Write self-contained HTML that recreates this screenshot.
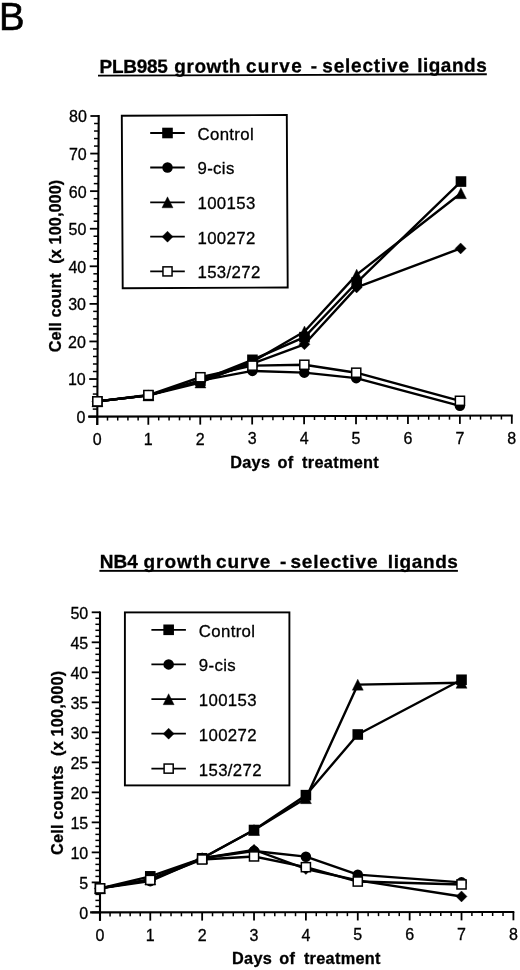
<!DOCTYPE html>
<html><head><meta charset="utf-8"><title>Growth curves</title>
<style>
html,body{margin:0;padding:0;background:#fff;}
body{width:520px;height:970px;overflow:hidden;}
svg{display:block;font-family:"Liberation Sans",sans-serif;will-change:transform;}
text{fill:#000;stroke:#000;stroke-width:0.3px;}
</style></head><body>
<svg width="520" height="970" viewBox="0 0 520 970">
<rect width="520" height="970" fill="#fff"/>
<text x="-1.1" y="29.5" font-size="38.3" style="stroke-width:0.6px">B</text>
<g transform="rotate(-0.2 99.5 73)">
<text x="99.6" y="73" font-size="19" font-weight="bold" style="letter-spacing:-0.3px">PLB985</text>
<text x="174.3" y="73" font-size="19" font-weight="bold" style="letter-spacing:0.55px">growth</text>
<text x="245.9" y="73" font-size="19" font-weight="bold" style="letter-spacing:1.3px">curve</text>
<text x="310.8" y="73" font-size="19" font-weight="bold" style="letter-spacing:0px">-</text>
<text x="322.3" y="73" font-size="19" font-weight="bold" style="letter-spacing:0.8px">selective</text>
<text x="417.2" y="73" font-size="19" font-weight="bold" style="letter-spacing:0.5px">ligands</text>
<rect x="98" y="74.7" width="388.8" height="1.9" fill="#000"/>
</g>
<line x1="98.70" y1="115.10" x2="97.26" y2="424.90" stroke="#000" stroke-width="2.1"/>
<line x1="88.10" y1="416.62" x2="512.70" y2="415.50" stroke="#000" stroke-width="2.1"/>
<line x1="89.00" y1="416.60" x2="97.30" y2="416.60" stroke="#000" stroke-width="1.8"/>
<text x="85.50" y="423.00" font-size="16" text-anchor="end">0</text>
<line x1="92.74" y1="409.09" x2="97.34" y2="409.09" stroke="#000" stroke-width="1.5"/>
<line x1="92.77" y1="401.57" x2="97.37" y2="401.57" stroke="#000" stroke-width="1.5"/>
<line x1="92.81" y1="394.06" x2="97.41" y2="394.06" stroke="#000" stroke-width="1.5"/>
<line x1="92.84" y1="386.54" x2="97.44" y2="386.54" stroke="#000" stroke-width="1.5"/>
<line x1="89.18" y1="379.03" x2="97.48" y2="379.03" stroke="#000" stroke-width="1.8"/>
<text x="85.68" y="385.43" font-size="16" text-anchor="end">10</text>
<line x1="92.91" y1="371.51" x2="97.51" y2="371.51" stroke="#000" stroke-width="1.5"/>
<line x1="92.95" y1="364.00" x2="97.55" y2="364.00" stroke="#000" stroke-width="1.5"/>
<line x1="92.98" y1="356.48" x2="97.58" y2="356.48" stroke="#000" stroke-width="1.5"/>
<line x1="93.02" y1="348.97" x2="97.62" y2="348.97" stroke="#000" stroke-width="1.5"/>
<line x1="89.35" y1="341.45" x2="97.65" y2="341.45" stroke="#000" stroke-width="1.8"/>
<text x="85.85" y="347.85" font-size="16" text-anchor="end">20</text>
<line x1="93.09" y1="333.94" x2="97.69" y2="333.94" stroke="#000" stroke-width="1.5"/>
<line x1="93.12" y1="326.42" x2="97.72" y2="326.42" stroke="#000" stroke-width="1.5"/>
<line x1="93.16" y1="318.91" x2="97.76" y2="318.91" stroke="#000" stroke-width="1.5"/>
<line x1="93.19" y1="311.39" x2="97.79" y2="311.39" stroke="#000" stroke-width="1.5"/>
<line x1="89.53" y1="303.88" x2="97.83" y2="303.88" stroke="#000" stroke-width="1.8"/>
<text x="86.03" y="310.27" font-size="16" text-anchor="end">30</text>
<line x1="93.26" y1="296.36" x2="97.86" y2="296.36" stroke="#000" stroke-width="1.5"/>
<line x1="93.30" y1="288.85" x2="97.90" y2="288.85" stroke="#000" stroke-width="1.5"/>
<line x1="93.33" y1="281.33" x2="97.93" y2="281.33" stroke="#000" stroke-width="1.5"/>
<line x1="93.37" y1="273.81" x2="97.97" y2="273.81" stroke="#000" stroke-width="1.5"/>
<line x1="89.70" y1="266.30" x2="98.00" y2="266.30" stroke="#000" stroke-width="1.8"/>
<text x="86.20" y="272.70" font-size="16" text-anchor="end">40</text>
<line x1="93.44" y1="258.79" x2="98.04" y2="258.79" stroke="#000" stroke-width="1.5"/>
<line x1="93.47" y1="251.27" x2="98.07" y2="251.27" stroke="#000" stroke-width="1.5"/>
<line x1="93.51" y1="243.75" x2="98.11" y2="243.75" stroke="#000" stroke-width="1.5"/>
<line x1="93.54" y1="236.24" x2="98.14" y2="236.24" stroke="#000" stroke-width="1.5"/>
<line x1="89.88" y1="228.73" x2="98.18" y2="228.73" stroke="#000" stroke-width="1.8"/>
<text x="86.38" y="235.13" font-size="16" text-anchor="end">50</text>
<line x1="93.61" y1="221.21" x2="98.21" y2="221.21" stroke="#000" stroke-width="1.5"/>
<line x1="93.65" y1="213.69" x2="98.25" y2="213.69" stroke="#000" stroke-width="1.5"/>
<line x1="93.68" y1="206.18" x2="98.28" y2="206.18" stroke="#000" stroke-width="1.5"/>
<line x1="93.72" y1="198.67" x2="98.32" y2="198.67" stroke="#000" stroke-width="1.5"/>
<line x1="90.05" y1="191.15" x2="98.35" y2="191.15" stroke="#000" stroke-width="1.8"/>
<text x="86.55" y="197.55" font-size="16" text-anchor="end">60</text>
<line x1="93.79" y1="183.63" x2="98.39" y2="183.63" stroke="#000" stroke-width="1.5"/>
<line x1="93.82" y1="176.12" x2="98.42" y2="176.12" stroke="#000" stroke-width="1.5"/>
<line x1="93.86" y1="168.61" x2="98.46" y2="168.61" stroke="#000" stroke-width="1.5"/>
<line x1="93.89" y1="161.09" x2="98.49" y2="161.09" stroke="#000" stroke-width="1.5"/>
<line x1="90.23" y1="153.57" x2="98.53" y2="153.57" stroke="#000" stroke-width="1.8"/>
<text x="86.73" y="159.97" font-size="16" text-anchor="end">70</text>
<line x1="93.96" y1="146.06" x2="98.56" y2="146.06" stroke="#000" stroke-width="1.5"/>
<line x1="94.00" y1="138.55" x2="98.60" y2="138.55" stroke="#000" stroke-width="1.5"/>
<line x1="94.03" y1="131.03" x2="98.63" y2="131.03" stroke="#000" stroke-width="1.5"/>
<line x1="94.07" y1="123.51" x2="98.67" y2="123.51" stroke="#000" stroke-width="1.5"/>
<line x1="90.40" y1="116.00" x2="98.70" y2="116.00" stroke="#000" stroke-width="1.8"/>
<text x="86.90" y="122.40" font-size="16" text-anchor="end">80</text>
<line x1="97.30" y1="416.60" x2="97.30" y2="424.90" stroke="#000" stroke-width="1.8"/>
<text x="97.30" y="444.90" font-size="16" text-anchor="middle">0</text>
<line x1="107.51" y1="416.57" x2="107.51" y2="420.57" stroke="#000" stroke-width="1.5"/>
<line x1="117.71" y1="416.55" x2="117.71" y2="420.55" stroke="#000" stroke-width="1.5"/>
<line x1="127.92" y1="416.52" x2="127.92" y2="420.52" stroke="#000" stroke-width="1.5"/>
<line x1="138.12" y1="416.49" x2="138.12" y2="420.49" stroke="#000" stroke-width="1.5"/>
<line x1="148.32" y1="416.46" x2="148.32" y2="424.76" stroke="#000" stroke-width="1.8"/>
<text x="148.32" y="444.76" font-size="16" text-anchor="middle">1</text>
<line x1="158.71" y1="416.44" x2="158.71" y2="420.44" stroke="#000" stroke-width="1.5"/>
<line x1="169.09" y1="416.41" x2="169.09" y2="420.41" stroke="#000" stroke-width="1.5"/>
<line x1="179.48" y1="416.38" x2="179.48" y2="420.38" stroke="#000" stroke-width="1.5"/>
<line x1="189.87" y1="416.35" x2="189.87" y2="420.35" stroke="#000" stroke-width="1.5"/>
<line x1="200.25" y1="416.33" x2="200.25" y2="424.63" stroke="#000" stroke-width="1.8"/>
<text x="200.25" y="444.63" font-size="16" text-anchor="middle">2</text>
<line x1="210.63" y1="416.30" x2="210.63" y2="420.30" stroke="#000" stroke-width="1.5"/>
<line x1="221.02" y1="416.27" x2="221.02" y2="420.27" stroke="#000" stroke-width="1.5"/>
<line x1="231.41" y1="416.24" x2="231.41" y2="420.24" stroke="#000" stroke-width="1.5"/>
<line x1="241.79" y1="416.22" x2="241.79" y2="420.22" stroke="#000" stroke-width="1.5"/>
<line x1="252.17" y1="416.19" x2="252.17" y2="424.49" stroke="#000" stroke-width="1.8"/>
<text x="252.17" y="444.49" font-size="16" text-anchor="middle">3</text>
<line x1="262.56" y1="416.16" x2="262.56" y2="420.16" stroke="#000" stroke-width="1.5"/>
<line x1="272.94" y1="416.13" x2="272.94" y2="420.13" stroke="#000" stroke-width="1.5"/>
<line x1="283.33" y1="416.11" x2="283.33" y2="420.11" stroke="#000" stroke-width="1.5"/>
<line x1="293.71" y1="416.08" x2="293.71" y2="420.08" stroke="#000" stroke-width="1.5"/>
<line x1="304.10" y1="416.05" x2="304.10" y2="424.35" stroke="#000" stroke-width="1.8"/>
<text x="304.10" y="444.35" font-size="16" text-anchor="middle">4</text>
<line x1="314.49" y1="416.02" x2="314.49" y2="420.02" stroke="#000" stroke-width="1.5"/>
<line x1="324.87" y1="416.00" x2="324.87" y2="420.00" stroke="#000" stroke-width="1.5"/>
<line x1="335.25" y1="415.97" x2="335.25" y2="419.97" stroke="#000" stroke-width="1.5"/>
<line x1="345.64" y1="415.94" x2="345.64" y2="419.94" stroke="#000" stroke-width="1.5"/>
<line x1="356.02" y1="415.91" x2="356.02" y2="424.21" stroke="#000" stroke-width="1.8"/>
<text x="356.02" y="444.21" font-size="16" text-anchor="middle">5</text>
<line x1="366.41" y1="415.89" x2="366.41" y2="419.89" stroke="#000" stroke-width="1.5"/>
<line x1="376.79" y1="415.86" x2="376.79" y2="419.86" stroke="#000" stroke-width="1.5"/>
<line x1="387.18" y1="415.83" x2="387.18" y2="419.83" stroke="#000" stroke-width="1.5"/>
<line x1="397.56" y1="415.80" x2="397.56" y2="419.80" stroke="#000" stroke-width="1.5"/>
<line x1="407.95" y1="415.78" x2="407.95" y2="424.08" stroke="#000" stroke-width="1.8"/>
<text x="407.95" y="444.08" font-size="16" text-anchor="middle">6</text>
<line x1="418.34" y1="415.75" x2="418.34" y2="419.75" stroke="#000" stroke-width="1.5"/>
<line x1="428.72" y1="415.72" x2="428.72" y2="419.72" stroke="#000" stroke-width="1.5"/>
<line x1="439.11" y1="415.69" x2="439.11" y2="419.69" stroke="#000" stroke-width="1.5"/>
<line x1="449.49" y1="415.67" x2="449.49" y2="419.67" stroke="#000" stroke-width="1.5"/>
<line x1="459.88" y1="415.64" x2="459.88" y2="423.94" stroke="#000" stroke-width="1.8"/>
<text x="459.88" y="443.94" font-size="16" text-anchor="middle">7</text>
<line x1="470.26" y1="415.61" x2="470.26" y2="419.61" stroke="#000" stroke-width="1.5"/>
<line x1="480.64" y1="415.58" x2="480.64" y2="419.58" stroke="#000" stroke-width="1.5"/>
<line x1="491.03" y1="415.56" x2="491.03" y2="419.56" stroke="#000" stroke-width="1.5"/>
<line x1="501.41" y1="415.53" x2="501.41" y2="419.53" stroke="#000" stroke-width="1.5"/>
<line x1="511.80" y1="415.50" x2="511.80" y2="423.80" stroke="#000" stroke-width="1.8"/>
<text x="511.80" y="443.80" font-size="16" text-anchor="middle">8</text>
<text x="230.20" y="467.5" font-size="16.3" font-weight="bold" style="letter-spacing:0.3px">Days</text>
<text x="277.50" y="467.5" font-size="16.3" font-weight="bold" style="letter-spacing:0.3px">of</text>
<text x="302.10" y="467.5" font-size="16.3" font-weight="bold" style="letter-spacing:0.3px">treatment</text>
<text transform="translate(61,352.3) rotate(-90)" font-size="16.3" font-weight="bold" textLength="172.6" lengthAdjust="spacing" xml:space="preserve">Cell count  (x 100,000)</text>
<polyline points="97.37,401.38 148.42,395.42 200.42,380.63 252.44,359.82 304.47,337.14 356.65,282.52 460.97,181.55" fill="none" stroke="#000" stroke-width="2.4" stroke-linejoin="round"/>
<rect x="92.07" y="396.08" width="10.60" height="10.60" fill="#000"/>
<rect x="143.12" y="390.12" width="10.60" height="10.60" fill="#000"/>
<rect x="195.12" y="375.33" width="10.60" height="10.60" fill="#000"/>
<rect x="247.14" y="354.52" width="10.60" height="10.60" fill="#000"/>
<rect x="299.17" y="331.84" width="10.60" height="10.60" fill="#000"/>
<rect x="351.35" y="277.22" width="10.60" height="10.60" fill="#000"/>
<rect x="455.67" y="176.25" width="10.60" height="10.60" fill="#000"/>
<polyline points="97.37,401.38 148.42,395.42 200.42,380.63 252.39,370.91 304.30,372.65 356.20,378.15 459.92,405.87" fill="none" stroke="#000" stroke-width="2.4" stroke-linejoin="round"/>
<circle cx="97.37" cy="401.38" r="5.25" fill="#000"/>
<circle cx="148.42" cy="395.42" r="5.25" fill="#000"/>
<circle cx="200.42" cy="380.63" r="5.25" fill="#000"/>
<circle cx="252.39" cy="370.91" r="5.25" fill="#000"/>
<circle cx="304.30" cy="372.65" r="5.25" fill="#000"/>
<circle cx="356.20" cy="378.15" r="5.25" fill="#000"/>
<circle cx="459.92" cy="405.87" r="5.25" fill="#000"/>
<polyline points="97.37,401.38 148.42,395.42 200.41,382.51 252.43,361.70 304.49,331.51 356.68,274.63 460.91,193.19" fill="none" stroke="#000" stroke-width="2.4" stroke-linejoin="round"/>
<polygon points="97.37,395.88 102.87,406.88 91.87,406.88" fill="#000" stroke="#000" stroke-width="0.4" stroke-linejoin="round"/>
<polygon points="148.42,389.92 153.92,400.92 142.92,400.92" fill="#000" stroke="#000" stroke-width="0.4" stroke-linejoin="round"/>
<polygon points="200.41,377.01 205.91,388.01 194.91,388.01" fill="#000" stroke="#000" stroke-width="0.4" stroke-linejoin="round"/>
<polygon points="252.43,356.20 257.93,367.20 246.93,367.20" fill="#000" stroke="#000" stroke-width="0.4" stroke-linejoin="round"/>
<polygon points="304.49,326.01 309.99,337.01 298.99,337.01" fill="#000" stroke="#000" stroke-width="0.4" stroke-linejoin="round"/>
<polygon points="356.68,269.13 362.18,280.13 351.18,280.13" fill="#000" stroke="#000" stroke-width="0.4" stroke-linejoin="round"/>
<polygon points="460.91,187.69 466.41,198.69 455.41,198.69" fill="#000" stroke="#000" stroke-width="0.4" stroke-linejoin="round"/>
<polyline points="97.37,401.38 148.42,395.42 200.42,380.63 252.42,363.58 304.43,344.28 356.62,287.41 460.65,248.43" fill="none" stroke="#000" stroke-width="2.4" stroke-linejoin="round"/>
<polygon points="97.37,395.88 102.87,401.38 97.37,406.88 91.87,401.38" fill="#000" stroke="#000" stroke-width="0.4" stroke-linejoin="round"/>
<polygon points="148.42,389.92 153.92,395.42 148.42,400.92 142.92,395.42" fill="#000" stroke="#000" stroke-width="0.4" stroke-linejoin="round"/>
<polygon points="200.42,375.13 205.92,380.63 200.42,386.13 194.92,380.63" fill="#000" stroke="#000" stroke-width="0.4" stroke-linejoin="round"/>
<polygon points="252.42,358.08 257.92,363.58 252.42,369.08 246.92,363.58" fill="#000" stroke="#000" stroke-width="0.4" stroke-linejoin="round"/>
<polygon points="304.43,338.78 309.93,344.28 304.43,349.78 298.93,344.28" fill="#000" stroke="#000" stroke-width="0.4" stroke-linejoin="round"/>
<polygon points="356.62,281.91 362.12,287.41 356.62,292.91 351.12,287.41" fill="#000" stroke="#000" stroke-width="0.4" stroke-linejoin="round"/>
<polygon points="460.65,242.93 466.15,248.43 460.65,253.93 455.15,248.43" fill="#000" stroke="#000" stroke-width="0.4" stroke-linejoin="round"/>
<polyline points="97.37,401.38 148.42,395.04 200.43,377.25 252.41,365.65 304.34,364.76 356.23,372.70 459.94,400.80" fill="none" stroke="#000" stroke-width="2.4" stroke-linejoin="round"/>
<rect x="92.82" y="396.83" width="9.10" height="9.10" fill="#fff" stroke="#000" stroke-width="1.5"/>
<rect x="143.87" y="390.49" width="9.10" height="9.10" fill="#fff" stroke="#000" stroke-width="1.5"/>
<rect x="195.88" y="372.70" width="9.10" height="9.10" fill="#fff" stroke="#000" stroke-width="1.5"/>
<rect x="247.86" y="361.10" width="9.10" height="9.10" fill="#fff" stroke="#000" stroke-width="1.5"/>
<rect x="299.79" y="360.21" width="9.10" height="9.10" fill="#fff" stroke="#000" stroke-width="1.5"/>
<rect x="351.68" y="368.15" width="9.10" height="9.10" fill="#fff" stroke="#000" stroke-width="1.5"/>
<rect x="455.39" y="396.25" width="9.10" height="9.10" fill="#fff" stroke="#000" stroke-width="1.5"/>
<g transform="rotate(-0.3 122.7 288.3)">
<rect x="122.7" y="115.8" width="165.0" height="172.5" fill="#fff" stroke="#000" stroke-width="1.9"/>
</g>
<line x1="150.2" y1="133" x2="184.8" y2="133" stroke="#000" stroke-width="1.8"/>
<rect x="162.20" y="127.70" width="10.60" height="10.60" fill="#000"/>
<text x="197.5" y="139.9" font-size="16.8" style="letter-spacing:0.35px">Control</text>
<line x1="150.2" y1="167.5" x2="184.8" y2="167.5" stroke="#000" stroke-width="1.8"/>
<circle cx="167.50" cy="167.50" r="5.25" fill="#000"/>
<text x="197.5" y="174.4" font-size="16.8" style="letter-spacing:0.35px">9-cis</text>
<line x1="150.2" y1="202.3" x2="184.8" y2="202.3" stroke="#000" stroke-width="1.8"/>
<polygon points="167.50,196.80 173.00,207.80 162.00,207.80" fill="#000" stroke="#000" stroke-width="0.4" stroke-linejoin="round"/>
<text x="197.5" y="209.20000000000002" font-size="16.8" style="letter-spacing:0.35px">100153</text>
<line x1="150.2" y1="236.7" x2="184.8" y2="236.7" stroke="#000" stroke-width="1.8"/>
<polygon points="167.50,231.20 173.00,236.70 167.50,242.20 162.00,236.70" fill="#000" stroke="#000" stroke-width="0.4" stroke-linejoin="round"/>
<text x="197.5" y="243.6" font-size="16.8" style="letter-spacing:0.35px">100272</text>
<line x1="150.2" y1="271.4" x2="184.8" y2="271.4" stroke="#000" stroke-width="1.8"/>
<rect x="162.95" y="266.85" width="9.10" height="9.10" fill="#fff" stroke="#000" stroke-width="1.5"/>
<text x="197.5" y="278.29999999999995" font-size="16.8" style="letter-spacing:0.35px">153/272</text>
<g transform="rotate(0 99.7 568.2)">
<text x="99.8" y="568.2" font-size="19" font-weight="bold" style="letter-spacing:0.05px">NB4</text>
<text x="143.4" y="568.2" font-size="19" font-weight="bold" style="letter-spacing:1.0px">growth</text>
<text x="216.1" y="568.2" font-size="19" font-weight="bold" style="letter-spacing:0.9px">curve</text>
<text x="279.9" y="568.2" font-size="19" font-weight="bold" style="letter-spacing:0px">-</text>
<text x="290.4" y="568.2" font-size="19" font-weight="bold" style="letter-spacing:0.85px">selective</text>
<text x="387.8" y="568.2" font-size="19" font-weight="bold" style="letter-spacing:0.6px">ligands</text>
<rect x="99.4" y="569.9000000000001" width="358.5" height="1.9" fill="#000"/>
</g>
<line x1="100.00" y1="611.40" x2="100.00" y2="920.70" stroke="#000" stroke-width="2.1"/>
<line x1="90.10" y1="912.41" x2="514.30" y2="912.00" stroke="#000" stroke-width="2.1"/>
<line x1="91.70" y1="912.40" x2="100.00" y2="912.40" stroke="#000" stroke-width="1.8"/>
<text x="88.20" y="918.80" font-size="16" text-anchor="end">0</text>
<line x1="95.40" y1="906.40" x2="100.00" y2="906.40" stroke="#000" stroke-width="1.5"/>
<line x1="95.40" y1="900.40" x2="100.00" y2="900.40" stroke="#000" stroke-width="1.5"/>
<line x1="95.40" y1="894.39" x2="100.00" y2="894.39" stroke="#000" stroke-width="1.5"/>
<line x1="95.40" y1="888.39" x2="100.00" y2="888.39" stroke="#000" stroke-width="1.5"/>
<line x1="91.70" y1="882.39" x2="100.00" y2="882.39" stroke="#000" stroke-width="1.8"/>
<text x="88.20" y="888.79" font-size="16" text-anchor="end">5</text>
<line x1="95.40" y1="876.39" x2="100.00" y2="876.39" stroke="#000" stroke-width="1.5"/>
<line x1="95.40" y1="870.39" x2="100.00" y2="870.39" stroke="#000" stroke-width="1.5"/>
<line x1="95.40" y1="864.38" x2="100.00" y2="864.38" stroke="#000" stroke-width="1.5"/>
<line x1="95.40" y1="858.38" x2="100.00" y2="858.38" stroke="#000" stroke-width="1.5"/>
<line x1="91.70" y1="852.38" x2="100.00" y2="852.38" stroke="#000" stroke-width="1.8"/>
<text x="88.20" y="858.78" font-size="16" text-anchor="end">10</text>
<line x1="95.40" y1="846.38" x2="100.00" y2="846.38" stroke="#000" stroke-width="1.5"/>
<line x1="95.40" y1="840.38" x2="100.00" y2="840.38" stroke="#000" stroke-width="1.5"/>
<line x1="95.40" y1="834.37" x2="100.00" y2="834.37" stroke="#000" stroke-width="1.5"/>
<line x1="95.40" y1="828.37" x2="100.00" y2="828.37" stroke="#000" stroke-width="1.5"/>
<line x1="91.70" y1="822.37" x2="100.00" y2="822.37" stroke="#000" stroke-width="1.8"/>
<text x="88.20" y="828.77" font-size="16" text-anchor="end">15</text>
<line x1="95.40" y1="816.37" x2="100.00" y2="816.37" stroke="#000" stroke-width="1.5"/>
<line x1="95.40" y1="810.37" x2="100.00" y2="810.37" stroke="#000" stroke-width="1.5"/>
<line x1="95.40" y1="804.36" x2="100.00" y2="804.36" stroke="#000" stroke-width="1.5"/>
<line x1="95.40" y1="798.36" x2="100.00" y2="798.36" stroke="#000" stroke-width="1.5"/>
<line x1="91.70" y1="792.36" x2="100.00" y2="792.36" stroke="#000" stroke-width="1.8"/>
<text x="88.20" y="798.76" font-size="16" text-anchor="end">20</text>
<line x1="95.40" y1="786.36" x2="100.00" y2="786.36" stroke="#000" stroke-width="1.5"/>
<line x1="95.40" y1="780.36" x2="100.00" y2="780.36" stroke="#000" stroke-width="1.5"/>
<line x1="95.40" y1="774.35" x2="100.00" y2="774.35" stroke="#000" stroke-width="1.5"/>
<line x1="95.40" y1="768.35" x2="100.00" y2="768.35" stroke="#000" stroke-width="1.5"/>
<line x1="91.70" y1="762.35" x2="100.00" y2="762.35" stroke="#000" stroke-width="1.8"/>
<text x="88.20" y="768.75" font-size="16" text-anchor="end">25</text>
<line x1="95.40" y1="756.35" x2="100.00" y2="756.35" stroke="#000" stroke-width="1.5"/>
<line x1="95.40" y1="750.35" x2="100.00" y2="750.35" stroke="#000" stroke-width="1.5"/>
<line x1="95.40" y1="744.34" x2="100.00" y2="744.34" stroke="#000" stroke-width="1.5"/>
<line x1="95.40" y1="738.34" x2="100.00" y2="738.34" stroke="#000" stroke-width="1.5"/>
<line x1="91.70" y1="732.34" x2="100.00" y2="732.34" stroke="#000" stroke-width="1.8"/>
<text x="88.20" y="738.74" font-size="16" text-anchor="end">30</text>
<line x1="95.40" y1="726.34" x2="100.00" y2="726.34" stroke="#000" stroke-width="1.5"/>
<line x1="95.40" y1="720.34" x2="100.00" y2="720.34" stroke="#000" stroke-width="1.5"/>
<line x1="95.40" y1="714.33" x2="100.00" y2="714.33" stroke="#000" stroke-width="1.5"/>
<line x1="95.40" y1="708.33" x2="100.00" y2="708.33" stroke="#000" stroke-width="1.5"/>
<line x1="91.70" y1="702.33" x2="100.00" y2="702.33" stroke="#000" stroke-width="1.8"/>
<text x="88.20" y="708.73" font-size="16" text-anchor="end">35</text>
<line x1="95.40" y1="696.33" x2="100.00" y2="696.33" stroke="#000" stroke-width="1.5"/>
<line x1="95.40" y1="690.33" x2="100.00" y2="690.33" stroke="#000" stroke-width="1.5"/>
<line x1="95.40" y1="684.32" x2="100.00" y2="684.32" stroke="#000" stroke-width="1.5"/>
<line x1="95.40" y1="678.32" x2="100.00" y2="678.32" stroke="#000" stroke-width="1.5"/>
<line x1="91.70" y1="672.32" x2="100.00" y2="672.32" stroke="#000" stroke-width="1.8"/>
<text x="88.20" y="678.72" font-size="16" text-anchor="end">40</text>
<line x1="95.40" y1="666.32" x2="100.00" y2="666.32" stroke="#000" stroke-width="1.5"/>
<line x1="95.40" y1="660.32" x2="100.00" y2="660.32" stroke="#000" stroke-width="1.5"/>
<line x1="95.40" y1="654.31" x2="100.00" y2="654.31" stroke="#000" stroke-width="1.5"/>
<line x1="95.40" y1="648.31" x2="100.00" y2="648.31" stroke="#000" stroke-width="1.5"/>
<line x1="91.70" y1="642.31" x2="100.00" y2="642.31" stroke="#000" stroke-width="1.8"/>
<text x="88.20" y="648.71" font-size="16" text-anchor="end">45</text>
<line x1="95.40" y1="636.31" x2="100.00" y2="636.31" stroke="#000" stroke-width="1.5"/>
<line x1="95.40" y1="630.31" x2="100.00" y2="630.31" stroke="#000" stroke-width="1.5"/>
<line x1="95.40" y1="624.30" x2="100.00" y2="624.30" stroke="#000" stroke-width="1.5"/>
<line x1="95.40" y1="618.30" x2="100.00" y2="618.30" stroke="#000" stroke-width="1.5"/>
<line x1="91.70" y1="612.30" x2="100.00" y2="612.30" stroke="#000" stroke-width="1.8"/>
<text x="88.20" y="618.70" font-size="16" text-anchor="end">50</text>
<line x1="100.00" y1="912.40" x2="100.00" y2="920.70" stroke="#000" stroke-width="1.8"/>
<text x="100.00" y="940.70" font-size="16" text-anchor="middle">0</text>
<line x1="110.06" y1="912.39" x2="110.06" y2="916.39" stroke="#000" stroke-width="1.5"/>
<line x1="120.11" y1="912.38" x2="120.11" y2="916.38" stroke="#000" stroke-width="1.5"/>
<line x1="130.16" y1="912.37" x2="130.16" y2="916.37" stroke="#000" stroke-width="1.5"/>
<line x1="140.22" y1="912.36" x2="140.22" y2="916.36" stroke="#000" stroke-width="1.5"/>
<line x1="150.28" y1="912.35" x2="150.28" y2="920.65" stroke="#000" stroke-width="1.8"/>
<text x="150.28" y="940.65" font-size="16" text-anchor="middle">1</text>
<line x1="160.65" y1="912.34" x2="160.65" y2="916.34" stroke="#000" stroke-width="1.5"/>
<line x1="171.03" y1="912.33" x2="171.03" y2="916.33" stroke="#000" stroke-width="1.5"/>
<line x1="181.40" y1="912.32" x2="181.40" y2="916.32" stroke="#000" stroke-width="1.5"/>
<line x1="191.78" y1="912.31" x2="191.78" y2="916.31" stroke="#000" stroke-width="1.5"/>
<line x1="202.15" y1="912.30" x2="202.15" y2="920.60" stroke="#000" stroke-width="1.8"/>
<text x="202.15" y="940.60" font-size="16" text-anchor="middle">2</text>
<line x1="212.53" y1="912.29" x2="212.53" y2="916.29" stroke="#000" stroke-width="1.5"/>
<line x1="222.90" y1="912.28" x2="222.90" y2="916.28" stroke="#000" stroke-width="1.5"/>
<line x1="233.28" y1="912.27" x2="233.28" y2="916.27" stroke="#000" stroke-width="1.5"/>
<line x1="243.65" y1="912.26" x2="243.65" y2="916.26" stroke="#000" stroke-width="1.5"/>
<line x1="254.03" y1="912.25" x2="254.03" y2="920.55" stroke="#000" stroke-width="1.8"/>
<text x="254.03" y="940.55" font-size="16" text-anchor="middle">3</text>
<line x1="264.40" y1="912.24" x2="264.40" y2="916.24" stroke="#000" stroke-width="1.5"/>
<line x1="274.77" y1="912.23" x2="274.77" y2="916.23" stroke="#000" stroke-width="1.5"/>
<line x1="285.15" y1="912.22" x2="285.15" y2="916.22" stroke="#000" stroke-width="1.5"/>
<line x1="295.52" y1="912.21" x2="295.52" y2="916.21" stroke="#000" stroke-width="1.5"/>
<line x1="305.90" y1="912.20" x2="305.90" y2="920.50" stroke="#000" stroke-width="1.8"/>
<text x="305.90" y="940.50" font-size="16" text-anchor="middle">4</text>
<line x1="316.27" y1="912.19" x2="316.27" y2="916.19" stroke="#000" stroke-width="1.5"/>
<line x1="326.65" y1="912.18" x2="326.65" y2="916.18" stroke="#000" stroke-width="1.5"/>
<line x1="337.02" y1="912.17" x2="337.02" y2="916.17" stroke="#000" stroke-width="1.5"/>
<line x1="347.40" y1="912.16" x2="347.40" y2="916.16" stroke="#000" stroke-width="1.5"/>
<line x1="357.77" y1="912.15" x2="357.77" y2="920.45" stroke="#000" stroke-width="1.8"/>
<text x="357.77" y="940.45" font-size="16" text-anchor="middle">5</text>
<line x1="368.15" y1="912.14" x2="368.15" y2="916.14" stroke="#000" stroke-width="1.5"/>
<line x1="378.52" y1="912.13" x2="378.52" y2="916.13" stroke="#000" stroke-width="1.5"/>
<line x1="388.90" y1="912.12" x2="388.90" y2="916.12" stroke="#000" stroke-width="1.5"/>
<line x1="399.27" y1="912.11" x2="399.27" y2="916.11" stroke="#000" stroke-width="1.5"/>
<line x1="409.65" y1="912.10" x2="409.65" y2="920.40" stroke="#000" stroke-width="1.8"/>
<text x="409.65" y="940.40" font-size="16" text-anchor="middle">6</text>
<line x1="420.02" y1="912.09" x2="420.02" y2="916.09" stroke="#000" stroke-width="1.5"/>
<line x1="430.40" y1="912.08" x2="430.40" y2="916.08" stroke="#000" stroke-width="1.5"/>
<line x1="440.77" y1="912.07" x2="440.77" y2="916.07" stroke="#000" stroke-width="1.5"/>
<line x1="451.15" y1="912.06" x2="451.15" y2="916.06" stroke="#000" stroke-width="1.5"/>
<line x1="461.52" y1="912.05" x2="461.52" y2="920.35" stroke="#000" stroke-width="1.8"/>
<text x="461.52" y="940.35" font-size="16" text-anchor="middle">7</text>
<line x1="471.90" y1="912.04" x2="471.90" y2="916.04" stroke="#000" stroke-width="1.5"/>
<line x1="482.27" y1="912.03" x2="482.27" y2="916.03" stroke="#000" stroke-width="1.5"/>
<line x1="492.65" y1="912.02" x2="492.65" y2="916.02" stroke="#000" stroke-width="1.5"/>
<line x1="503.02" y1="912.01" x2="503.02" y2="916.01" stroke="#000" stroke-width="1.5"/>
<line x1="513.40" y1="912.00" x2="513.40" y2="920.30" stroke="#000" stroke-width="1.8"/>
<text x="513.40" y="940.30" font-size="16" text-anchor="middle">8</text>
<text x="232.00" y="963.5" font-size="16.3" font-weight="bold" style="letter-spacing:0.3px">Days</text>
<text x="279.30" y="963.5" font-size="16.3" font-weight="bold" style="letter-spacing:0.3px">of</text>
<text x="303.90" y="963.5" font-size="16.3" font-weight="bold" style="letter-spacing:0.3px">treatment</text>
<text transform="translate(62.5,854.9) rotate(-90)" font-size="16.3" font-weight="bold" textLength="184" lengthAdjust="spacing" xml:space="preserve">Cell counts  (x 100,000)</text>
<polyline points="100.00,888.39 150.28,876.34 202.15,858.28 254.03,830.02 305.90,795.16 357.77,734.49 461.52,679.77" fill="none" stroke="#000" stroke-width="2.4" stroke-linejoin="round"/>
<rect x="94.70" y="883.09" width="10.60" height="10.60" fill="#000"/>
<rect x="144.97" y="871.04" width="10.60" height="10.60" fill="#000"/>
<rect x="196.85" y="852.98" width="10.60" height="10.60" fill="#000"/>
<rect x="248.72" y="824.72" width="10.60" height="10.60" fill="#000"/>
<rect x="300.60" y="789.86" width="10.60" height="10.60" fill="#000"/>
<rect x="352.47" y="729.19" width="10.60" height="10.60" fill="#000"/>
<rect x="456.22" y="674.47" width="10.60" height="10.60" fill="#000"/>
<polyline points="100.00,888.39 150.28,881.14 202.15,858.28 254.03,851.03 305.90,856.68 357.77,874.64 461.52,882.34" fill="none" stroke="#000" stroke-width="2.4" stroke-linejoin="round"/>
<circle cx="100.00" cy="888.39" r="5.25" fill="#000"/>
<circle cx="150.28" cy="881.14" r="5.25" fill="#000"/>
<circle cx="202.15" cy="858.28" r="5.25" fill="#000"/>
<circle cx="254.03" cy="851.03" r="5.25" fill="#000"/>
<circle cx="305.90" cy="856.68" r="5.25" fill="#000"/>
<circle cx="357.77" cy="874.64" r="5.25" fill="#000"/>
<circle cx="461.52" cy="882.34" r="5.25" fill="#000"/>
<polyline points="100.00,888.39 150.28,879.34 202.15,858.28 254.03,830.02 305.90,798.16 357.77,684.67 461.52,682.77" fill="none" stroke="#000" stroke-width="2.4" stroke-linejoin="round"/>
<polygon points="100.00,882.89 105.50,893.89 94.50,893.89" fill="#000" stroke="#000" stroke-width="0.4" stroke-linejoin="round"/>
<polygon points="150.28,873.84 155.78,884.84 144.78,884.84" fill="#000" stroke="#000" stroke-width="0.4" stroke-linejoin="round"/>
<polygon points="202.15,852.78 207.65,863.78 196.65,863.78" fill="#000" stroke="#000" stroke-width="0.4" stroke-linejoin="round"/>
<polygon points="254.03,824.52 259.52,835.52 248.53,835.52" fill="#000" stroke="#000" stroke-width="0.4" stroke-linejoin="round"/>
<polygon points="305.90,792.66 311.40,803.66 300.40,803.66" fill="#000" stroke="#000" stroke-width="0.4" stroke-linejoin="round"/>
<polygon points="357.77,679.17 363.27,690.17 352.27,690.17" fill="#000" stroke="#000" stroke-width="0.4" stroke-linejoin="round"/>
<polygon points="461.52,677.27 467.02,688.27 456.02,688.27" fill="#000" stroke="#000" stroke-width="0.4" stroke-linejoin="round"/>
<polyline points="100.00,888.39 150.28,879.34 202.15,858.28 254.03,849.83 305.90,868.99 357.77,880.34 461.52,896.44" fill="none" stroke="#000" stroke-width="2.4" stroke-linejoin="round"/>
<polygon points="100.00,882.89 105.50,888.39 100.00,893.89 94.50,888.39" fill="#000" stroke="#000" stroke-width="0.4" stroke-linejoin="round"/>
<polygon points="150.28,873.84 155.78,879.34 150.28,884.84 144.78,879.34" fill="#000" stroke="#000" stroke-width="0.4" stroke-linejoin="round"/>
<polygon points="202.15,852.78 207.65,858.28 202.15,863.78 196.65,858.28" fill="#000" stroke="#000" stroke-width="0.4" stroke-linejoin="round"/>
<polygon points="254.03,844.33 259.52,849.83 254.03,855.33 248.53,849.83" fill="#000" stroke="#000" stroke-width="0.4" stroke-linejoin="round"/>
<polygon points="305.90,863.49 311.40,868.99 305.90,874.49 300.40,868.99" fill="#000" stroke="#000" stroke-width="0.4" stroke-linejoin="round"/>
<polygon points="357.77,874.84 363.27,880.34 357.77,885.84 352.27,880.34" fill="#000" stroke="#000" stroke-width="0.4" stroke-linejoin="round"/>
<polygon points="461.52,890.94 467.02,896.44 461.52,901.94 456.02,896.44" fill="#000" stroke="#000" stroke-width="0.4" stroke-linejoin="round"/>
<polyline points="100.00,888.39 150.28,879.94 202.15,859.48 254.03,856.43 305.90,867.18 357.77,881.54 461.52,884.44" fill="none" stroke="#000" stroke-width="2.4" stroke-linejoin="round"/>
<rect x="95.45" y="883.84" width="9.10" height="9.10" fill="#fff" stroke="#000" stroke-width="1.5"/>
<rect x="145.72" y="875.39" width="9.10" height="9.10" fill="#fff" stroke="#000" stroke-width="1.5"/>
<rect x="197.60" y="854.93" width="9.10" height="9.10" fill="#fff" stroke="#000" stroke-width="1.5"/>
<rect x="249.47" y="851.88" width="9.10" height="9.10" fill="#fff" stroke="#000" stroke-width="1.5"/>
<rect x="301.35" y="862.63" width="9.10" height="9.10" fill="#fff" stroke="#000" stroke-width="1.5"/>
<rect x="353.22" y="876.99" width="9.10" height="9.10" fill="#fff" stroke="#000" stroke-width="1.5"/>
<rect x="456.97" y="879.89" width="9.10" height="9.10" fill="#fff" stroke="#000" stroke-width="1.5"/>
<g transform="rotate(0 124.9 785.4)">
<rect x="124.9" y="612.4" width="164.49999999999997" height="173.0" fill="#fff" stroke="#000" stroke-width="1.9"/>
</g>
<line x1="151.4" y1="629.8" x2="185.9" y2="629.8" stroke="#000" stroke-width="1.8"/>
<rect x="163.35" y="624.50" width="10.60" height="10.60" fill="#000"/>
<text x="198.8" y="636.6999999999999" font-size="16.8" style="letter-spacing:0.35px">Control</text>
<line x1="151.4" y1="664.4" x2="185.9" y2="664.4" stroke="#000" stroke-width="1.8"/>
<circle cx="168.65" cy="664.40" r="5.25" fill="#000"/>
<text x="198.8" y="671.3" font-size="16.8" style="letter-spacing:0.35px">9-cis</text>
<line x1="151.4" y1="699.2" x2="185.9" y2="699.2" stroke="#000" stroke-width="1.8"/>
<polygon points="168.65,693.70 174.15,704.70 163.15,704.70" fill="#000" stroke="#000" stroke-width="0.4" stroke-linejoin="round"/>
<text x="198.8" y="706.1" font-size="16.8" style="letter-spacing:0.35px">100153</text>
<line x1="151.4" y1="733.7" x2="185.9" y2="733.7" stroke="#000" stroke-width="1.8"/>
<polygon points="168.65,728.20 174.15,733.70 168.65,739.20 163.15,733.70" fill="#000" stroke="#000" stroke-width="0.4" stroke-linejoin="round"/>
<text x="198.8" y="740.6" font-size="16.8" style="letter-spacing:0.35px">100272</text>
<line x1="151.4" y1="768.6" x2="185.9" y2="768.6" stroke="#000" stroke-width="1.8"/>
<rect x="164.10" y="764.05" width="9.10" height="9.10" fill="#fff" stroke="#000" stroke-width="1.5"/>
<text x="198.8" y="775.5" font-size="16.8" style="letter-spacing:0.35px">153/272</text>
</svg>
</body></html>
